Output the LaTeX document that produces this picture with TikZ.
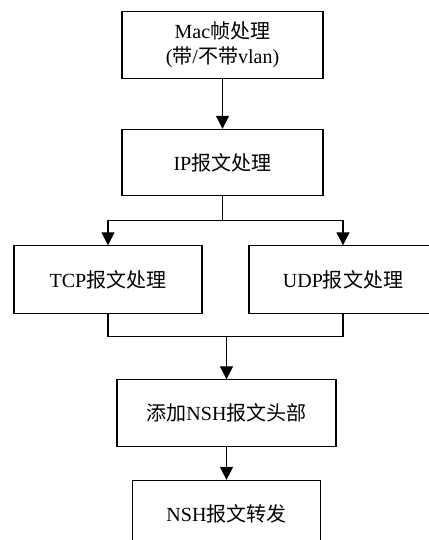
\documentclass[tikz,border=0pt]{standalone}
\usepackage{fontspec}
\setmainfont{Liberation Serif}
\newfontfamily\cjk{Noto Sans CJK SC}
\newcommand{\zh}[1]{{\cjk #1}}
\usepackage{tikz}
\usetikzlibrary{positioning, arrows.meta}

\begin{document}
\begin{tikzpicture}[
    box/.style={draw, line width=0.6pt, font=\fontsize{11.4}{14.2}\selectfont, align=center, minimum width=40.2mm, minimum height=13.3mm, inner sep=0pt, fill=white},
    arr/.style={-{Triangle[length=2.6mm, width=2.6mm]}, line width=0.6pt},
    link/.style={line width=0.6pt}
]
\useasboundingbox (0,0) rectangle (85.6mm,-108mm);

\node[box] (mac) at (44.5mm,-9mm) {Mac\zh{帧处理}\\(\zh{带}/\zh{不带}vlan)};
\node[box, below=10mm of mac] (ip) {IP\zh{报文处理}};
\node[box, minimum width=37.6mm, minimum height=13.6mm, below=9.8mm of ip, xshift=-22.9mm] (tcp) {TCP\zh{报文处理}};
\node[box, minimum width=37.6mm, minimum height=13.6mm, below=9.8mm of ip, xshift=24.1mm] (udp) {UDP\zh{报文处理}};
\node[box, minimum width=43.8mm, below=36.6mm of ip, xshift=0.8mm] (nshadd) {\zh{添加}NSH\zh{报文头部}};
\node[box, minimum width=37.6mm, below=6.6mm of nshadd] (nshfwd) {NSH\zh{报文转发}};

\coordinate[below=4.8mm of ip.south] (split);
\coordinate (join) at ([yshift=-4.4mm]tcp.south -| nshadd.north);

\draw[arr] (mac) -- (ip);
\draw[link] (ip) -- (split);
\draw[arr] (split) -| (tcp);
\draw[arr] (split) -| (udp);
\draw[link] (tcp) |- (join) -| (udp);
\draw[arr] (join) -- (nshadd);
\draw[arr] (nshadd) -- (nshfwd);
\end{tikzpicture}
\end{document}
